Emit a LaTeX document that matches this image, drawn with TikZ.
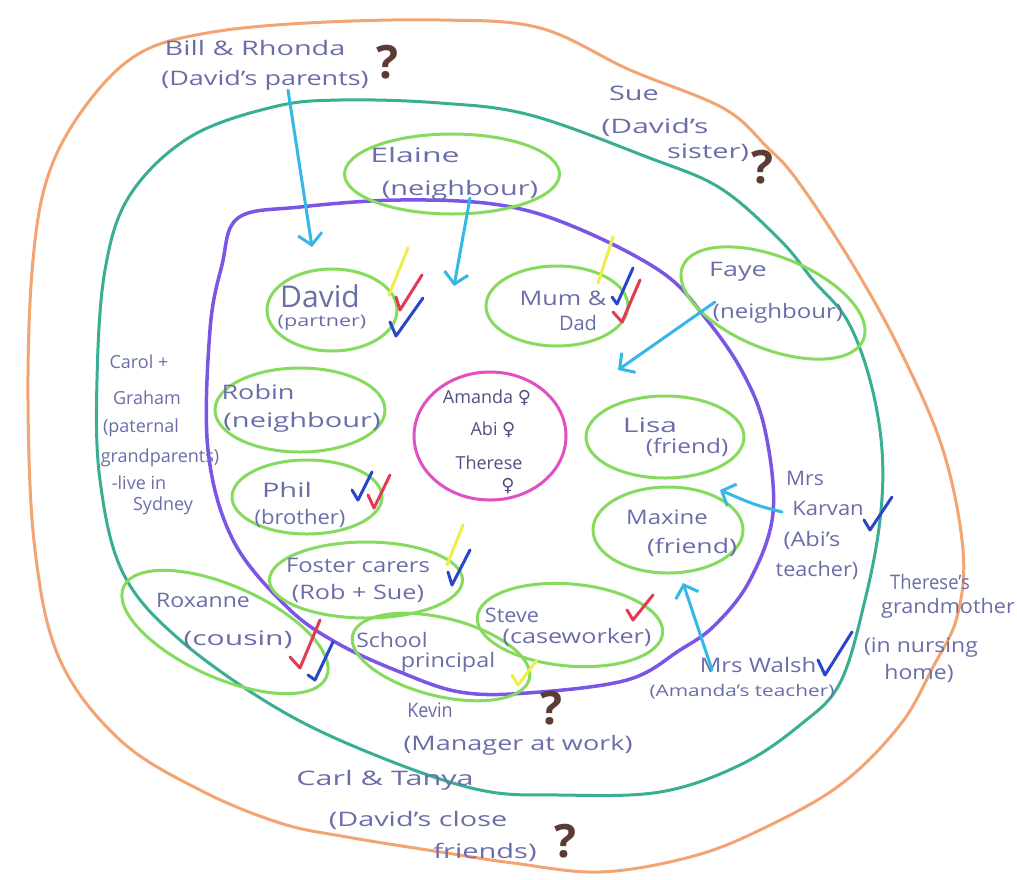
\documentclass[tikz,border=0pt]{standalone}
\usepackage{fontspec}
\setmainfont{Open Sans}
\newfontfamily\symf{DejaVu Sans}
\usetikzlibrary{shapes.geometric,arrows.meta}
\definecolor{ink}{HTML}{6A6EA8}
\definecolor{inkdark}{HTML}{4E5280}
\definecolor{orng}{HTML}{F2A573}
\definecolor{teal}{HTML}{3AAE93}
\definecolor{purp}{HTML}{7A55E6}
\definecolor{grn}{HTML}{86DB5E}
\definecolor{mgnt}{HTML}{E24FC0}
\definecolor{cyn}{HTML}{35B8E6}
\definecolor{tyel}{HTML}{EEEE4A}
\definecolor{tred}{HTML}{E23A55}
\definecolor{tblu}{HTML}{2A46C8}
\definecolor{qbrown}{HTML}{5B3B34}
\begin{document}
\begin{tikzpicture}[x=1pt,y=-1pt,
  txt/.style={text=ink,font=\fontsize{20}{24}\selectfont,inner sep=0pt},
  sm/.style={text=ink,font=\fontsize{18}{22}\selectfont,inner sep=0pt},
  stxt/.style={text=ink,font=\fontsize{16}{19}\selectfont,inner sep=0pt},
  ctxt/.style={text=inkdark,font=\fontsize{18}{21}\selectfont,inner sep=0pt},
  ring/.style={draw=grn,line width=3pt,ellipse,inner sep=0pt},
  loop/.style={line width=3pt},
  arr/.style={draw=cyn,line width=3pt,line cap=round,-{Straight Barb[length=11pt,width=24pt,line width=3pt]}},
  tick/.style={line width=3pt,line cap=round,line join=round},
  qm/.style={text=qbrown,font=\fontsize{46}{46}\selectfont\bfseries,inner sep=0pt}
]
\fill[white] (0,0) rectangle (1017,879);
\useasboundingbox (0,0) rectangle (1017,879);

% outer loops
\draw[loop,draw=orng] plot[smooth cycle,tension=0.6] coordinates {
 (140,53) (207,33) (307,23) (440,20) (540,28) (630,70) (723,108) (767,147) (797,180)
 (850,260) (900,350) (943,450) (963,550) (957,617) (933,667) (900,725) (840,785)
 (760,830) (690,857) (600,872) (513,863) (447,853) (347,837) (280,823) (200,790)
 (120,740) (60,660) (35,550) (28,400) (33,260) (50,170) (90,100)};
\draw[loop,draw=teal] plot[smooth cycle,tension=0.6] coordinates {
 (190,137) (273,107) (340,100) (440,103) (530,115) (647,157) (720,188) (780,240)
 (813,280) (847,320) (870,380) (882,450) (880,520) (865,600) (840,683) (800,725)
 (740,765) (660,792) (560,795) (480,790) (380,757) (280,710) (180,640)
 (123,573) (100,480) (97,380) (105,270) (130,195)};
\draw[line width=3.5pt,draw=purp] plot[smooth cycle,tension=0.6] coordinates {
 (238,218) (300,207) (400,200) (500,205) (577,228) (663,273) (707,320) (743,373)
 (765,430) (773,513) (750,580) (715,625) (680,650) (627,680) (527,693) (460,692)
 (400,672) (337,643) (287,607) (233,540) (208,450) (210,330) (222,265)};

% centre
\node[draw=mgnt,line width=3pt,ellipse,minimum width=152pt,minimum height=128pt] (core) at (490,436) {};
\node[ctxt] (amanda) at (487,398) {Amanda {\symf ♀}};
\node[ctxt] (abi) at (493,430) {Abi {\symf ♀}};
\node[ctxt] (therese) at (489,463) {Therese};
\node[ctxt] (tsym) at (508,486) {\symf ♀};

% green ellipses
\node[ring,minimum width=215pt,minimum height=80pt] (elaine) at (452,174) {};
\node[ring,minimum width=130pt,minimum height=82pt] (david) at (332,310) {};
\node[ring,minimum width=142pt,minimum height=80pt] (mum) at (557,306) {};
\node[ring,minimum width=195pt,minimum height=92pt,rotate=-22] (faye) at (773,303) {};
\node[ring,minimum width=170pt,minimum height=84pt] (robin) at (300,410) {};
\node[ring,minimum width=158pt,minimum height=82pt] (lisa) at (665,437) {};
\node[ring,minimum width=150pt,minimum height=74pt] (phil) at (307,497) {};
\node[ring,minimum width=150pt,minimum height=86pt] (maxine) at (668,530) {};
\node[ring,minimum width=193pt,minimum height=76pt] (foster) at (366,580) {};
\node[ring,minimum width=222pt,minimum height=92pt,rotate=-24] (roxanne) at (225,632) {};
\node[ring,minimum width=182pt,minimum height=78pt,rotate=-14] (school) at (441,657) {};
\node[ring,minimum width=186pt,minimum height=82pt,rotate=-5] (steve) at (570,625) {};

% texts
\node[txt,xscale=1.44] (bill1) at (255,48) {Bill \& Rhonda};
\node[txt,xscale=1.35] (bill2) at (265,80) {(David's parents)};
\node[qm] (q1) at (387,62) {?};
\node[txt,xscale=1.44] (sue1) at (634,93) {Sue};
\node[txt,xscale=1.5] (sue2) at (655,127) {(David's};
\node[txt,xscale=1.45] (sue3) at (708,153) {sister)};
\node[qm] (q2) at (762,167) {?};
\node[txt,xscale=1.6] (elaine1) at (415,155) {Elaine};
\node[txt,xscale=1.44] (elaine2) at (460,190) {(neighbour)};
\node[txt,font=\fontsize{30}{32}\selectfont] (david1) at (320,296) {David};
\node[stxt,xscale=1.35] (david2) at (322,323) {(partner)};
\node[txt,xscale=1.26] (mum1) at (563,298) {Mum \&};
\node[txt] (mum2) at (578,323) {Dad};
\node[txt,xscale=1.35] (faye1) at (738,272) {Faye};
\node[txt,xscale=1.2] (faye2) at (778,313) {(neighbour)};
\node[sm] (carol1) at (139,362) {Carol +};
\node[sm] (carol2) at (147,398) {Graham};
\node[sm] (carol3) at (141,428) {(paternal};
\node[sm] (carol4) at (160,458) {grandparents)};
\node[sm] (carol5) at (139,483) {-live in};
\node[sm] (carol6) at (163,506) {Sydney};
\node[txt,xscale=1.35] (robin1) at (258,392) {Robin};
\node[txt,xscale=1.45] (robin2) at (302,422) {(neighbour)};
\node[txt,xscale=1.5] (lisa1) at (650,425) {Lisa};
\node[txt,xscale=1.22] (lisa2) at (687,447) {(friend)};
\node[txt,xscale=1.45] (phil1) at (287,490) {Phil};
\node[txt,xscale=1.1] (phil2) at (300,518) {(brother)};
\node[txt,xscale=1.2] (maxine1) at (667,517) {Maxine};
\node[txt,xscale=1.33] (maxine2) at (692,547) {(friend)};
\node[txt,xscale=1.05] (kar1) at (805,478) {Mrs};
\node[txt,xscale=1.1] (kar2) at (828,508) {Karvan};
\node[txt,xscale=1.18] (kar3) at (812,540) {(Abi's};
\node[txt,xscale=1.08] (kar4) at (817,570) {teacher)};
\node[txt,xscale=1.19] (foster1) at (358,565) {Foster carers};
\node[txt,xscale=1.26] (foster2) at (358,593) {(Rob + Sue)};
\node[txt,xscale=1.15] (rox1) at (203,600) {Roxanne};
\node[txt,xscale=1.5] (rox2) at (238,640) {(cousin)};
\node[txt,xscale=1.15] (school1) at (392,640) {School};
\node[txt,xscale=1.17] (school2) at (448,662) {principal};
\node[txt,xscale=1.08] (steve1) at (512,615) {Steve};
\node[txt,xscale=1.26] (steve2) at (577,637) {(caseworker)};
\node[txt,xscale=0.92] (ther1) at (930,582) {Therese's};
\node[txt,xscale=1.08] (ther2) at (948,608) {grandmother};
\node[txt,xscale=1.15] (ther3) at (921,648) {(in nursing};
\node[txt,xscale=1.15] (ther4) at (919,673) {home)};
\node[txt,xscale=1.2] (walsh1) at (758,665) {Mrs Walsh};
\node[stxt,xscale=1.3] (walsh2) at (742,692) {(Amanda's teacher)};
\node[txt,xscale=0.9] (kevin1) at (430,710) {Kevin};
\node[txt,xscale=1.35] (kevin2) at (518,745) {(Manager at work)};
\node[qm] (q3) at (551,708) {?};
\node[txt,xscale=1.53] (carl1) at (385,780) {Carl \& Tanya};
\node[txt,xscale=1.44] (carl2) at (418,820) {(David's close};
\node[txt,xscale=1.45] (carl3) at (485,852) {friends)};
\node[qm] (q4) at (565,841) {?};

% arrows
\coordinate (a1s) at (288,90);   \coordinate (a1e) at (312,247);
\coordinate (a2s) at (470,198);  \coordinate (a2e) at (454,286);
\coordinate (a3s) at (715,302);  \coordinate (a3e) at (618,370);
\coordinate (a4s) at (782,512);  \coordinate (a4e) at (720,490);
\coordinate (a5s) at (712,670);  \coordinate (a5e) at (683,583);
\draw[arr] (a1s) -- (a1e);
\draw[arr] (a2s) -- (a2e);
\draw[arr] (a3s) -- (a3e);
\draw[arr] (a4s) .. controls (755,505) .. (a4e);
\draw[arr] (a5s) -- (a5e);

% ticks
\draw[tick,draw=tyel] (408,248) -- (389,295);
\draw[tick,draw=tred] (396,297) -- (400,310) -- (422,275);
\draw[tick,draw=tblu] (390,322) -- (396,336) -- (423,298);
\draw[tick,draw=tyel] (613,237) -- (598,283);
\draw[tick,draw=tblu] (612,297) -- (617,304) -- (633,268);
\draw[tick,draw=tred] (613,312) -- (622,322) -- (640,280);
\draw[tick,draw=tblu] (352,490) -- (358,500) -- (372,472);
\draw[tick,draw=tred] (368,495) -- (374,508) -- (390,475);
\draw[tick,draw=tyel] (463,525) -- (447,565);
\draw[tick,draw=tblu] (448,572) -- (452,585) -- (470,550);
\draw[tick,draw=tred] (290,657) -- (300,668) -- (320,620);
\draw[tick,draw=tblu] (308,675) -- (315,680) -- (333,642);
\draw[tick,draw=tred] (627,610) -- (633,620) -- (653,595);
\draw[tick,draw=tyel] (512,675) -- (518,685) -- (537,660);
\draw[tick,draw=tblu] (864,520) -- (870,530) -- (892,497);
\draw[tick,draw=tblu] (818,660) -- (825,675) -- (852,632);
\end{tikzpicture}
\end{document}
